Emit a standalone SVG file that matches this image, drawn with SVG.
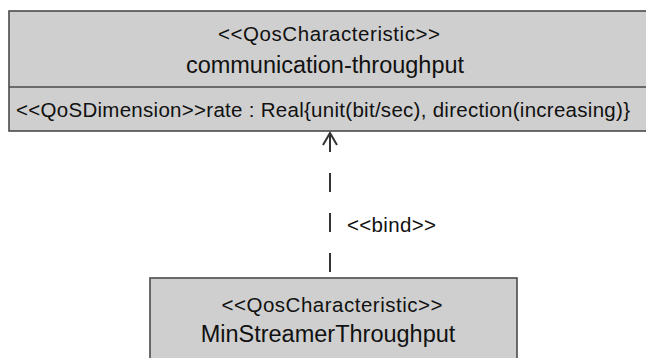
<svg xmlns="http://www.w3.org/2000/svg" width="646" height="358" viewBox="0 0 646 358">
  <style>
    .box { fill: #cfcfcf; stroke: #4a4a4a; stroke-width: 1.6; }
    .sep { stroke: #4a4a4a; stroke-width: 1.6; }
    .txt { font-family: "Liberation Sans", Arial, Helvetica, sans-serif; fill: #111; }
    .stereo { font-size: 20.5px; text-anchor: middle; }
    .name { font-size: 23.5px; text-anchor: middle; }
    .attr { font-size: 20.5px; }
    .dep { fill: none; stroke: #333; stroke-width: 2; }
  </style>
  <rect width="646" height="358" fill="#ffffff"/>

  <!-- QoS characteristic: communication-throughput -->
  <g id="communication-throughput">
    <rect class="box" x="9" y="11" width="650" height="120"/>
    <line class="sep" x1="9" y1="87" x2="659" y2="87"/>
    <text class="txt stereo" x="329" y="40.5" textLength="222" lengthAdjust="spacing">&lt;&lt;QosCharacteristic&gt;&gt;</text>
    <text class="txt name" x="325" y="72.5">communication-throughput</text>
    <text class="txt attr" x="16" y="117" textLength="614" lengthAdjust="spacing">&lt;&lt;QoSDimension&gt;&gt;rate : Real{unit(bit/sec), direction(increasing)}</text>
  </g>

  <!-- QoS characteristic: MinStreamerThroughput -->
  <g id="MinStreamerThroughput">
    <rect class="box" x="150" y="278" width="367" height="100"/>
    <text class="txt stereo" x="332" y="311.5" textLength="221" lengthAdjust="spacing">&lt;&lt;QosCharacteristic&gt;&gt;</text>
    <text class="txt name" x="328" y="341.5">MinStreamerThroughput</text>
  </g>

  <!-- bind dependency -->
  <g id="connectors">
    <path class="dep" d="M330 272 V133" stroke-dasharray="19 21"/>
    <path class="dep" d="M323 145 L330 133 L337 145"/>
    <text class="txt attr" x="347" y="231.5" textLength="89" lengthAdjust="spacing">&lt;&lt;bind&gt;&gt;</text>
  </g>
</svg>
